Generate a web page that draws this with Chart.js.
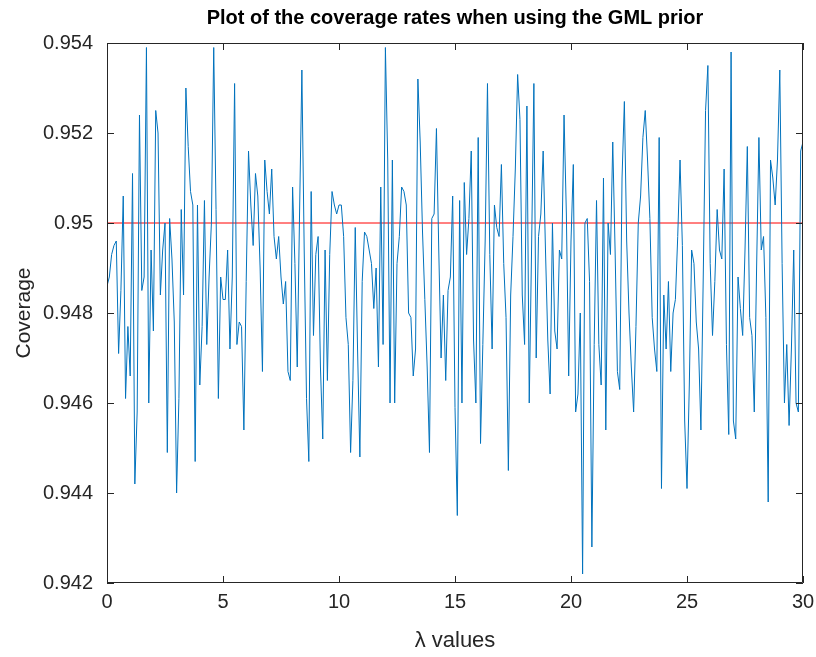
<!DOCTYPE html>
<html>
<head>
<meta charset="utf-8">
<script src="https://cdn.jsdelivr.net/npm/chart.js@4.4.1/dist/chart.umd.min.js"></script>
<style>
  html, body { margin: 0; padding: 0; background: #ffffff; }
  #wrap { width: 816px; height: 657px; }
</style>
</head>
<body>
<div id="wrap"><canvas id="coverageChart" width="816" height="657"></canvas></div>
<script>
// λ grid: 0 to 30 by 0.1
const lambdaStep = 0.1;

// coverage rates, one per λ step
const coverage = [
  0.9486, 0.9488, 0.9493, 0.9495, 0.9496, 0.9471, 0.9485, 0.9506, 0.9461, 0.9477,
  0.9466, 0.9511, 0.9442, 0.9458, 0.9524, 0.9485, 0.9488, 0.9539, 0.9460, 0.9494,
  0.9476, 0.9525, 0.9520, 0.9484, 0.9494, 0.9500, 0.9449, 0.9501, 0.9492, 0.9478,
  0.9440, 0.9461, 0.9503, 0.9484, 0.9530, 0.9517, 0.9507, 0.9504, 0.9447, 0.9504,
  0.9464, 0.9477, 0.9505, 0.9473, 0.9488, 0.9500, 0.9539, 0.9503, 0.9461, 0.9488,
  0.9483, 0.9483, 0.9494, 0.9472, 0.9488, 0.9531, 0.9473, 0.9478, 0.9477, 0.9454,
  0.9487, 0.9516, 0.9504, 0.9495, 0.9511, 0.9506, 0.9490, 0.9467, 0.9514, 0.9507,
  0.9502, 0.9512, 0.9497, 0.9492, 0.9497, 0.9488, 0.9482, 0.9487, 0.9467, 0.9465,
  0.9508, 0.9491, 0.9468, 0.9502, 0.9534, 0.9494, 0.9461, 0.9447, 0.9507, 0.9475,
  0.9493, 0.9497, 0.9468, 0.9452, 0.9494, 0.9465, 0.9493, 0.9507, 0.9504, 0.9502,
  0.9504, 0.9504, 0.9497, 0.9479, 0.9473, 0.9449, 0.9465, 0.9499, 0.9472, 0.9448,
  0.9487, 0.9498, 0.9497, 0.9494, 0.9491, 0.9481, 0.9490, 0.9468, 0.9508, 0.9473,
  0.9539, 0.9514, 0.9460, 0.9514, 0.9460, 0.9491, 0.9497, 0.9508, 0.9507, 0.9504,
  0.9480, 0.9479, 0.9466, 0.9472, 0.9532, 0.9518, 0.9498, 0.9483, 0.9468, 0.9449,
  0.9501, 0.9502, 0.9521, 0.9494, 0.9470, 0.9484, 0.9465, 0.9485, 0.9488, 0.9506,
  0.9459, 0.9435, 0.9505, 0.9460, 0.9509, 0.9493, 0.9501, 0.9516, 0.9474, 0.9460,
  0.9519, 0.9451, 0.9473, 0.9496, 0.9531, 0.9493, 0.9472, 0.9504, 0.9499, 0.9497,
  0.9513, 0.9491, 0.9479, 0.9445, 0.9484, 0.9497, 0.9512, 0.9533, 0.9523, 0.9484,
  0.9473, 0.9526, 0.9460, 0.9494, 0.9531, 0.9470, 0.9497, 0.9502, 0.9516, 0.9494,
  0.9474, 0.9462, 0.9500, 0.9476, 0.9472, 0.9494, 0.9492, 0.9524, 0.9502, 0.9466,
  0.9496, 0.9513, 0.9458, 0.9462, 0.9480, 0.9422, 0.9500, 0.9501, 0.9487, 0.9428,
  0.9473, 0.9505, 0.9473, 0.9464, 0.9510, 0.9454, 0.9500, 0.9493, 0.9518, 0.9494,
  0.9467, 0.9463, 0.9510, 0.9527, 0.9496, 0.9480, 0.9468, 0.9458, 0.9477, 0.9500,
  0.9506, 0.9519, 0.9525, 0.9514, 0.9501, 0.9479, 0.9472, 0.9467, 0.9519, 0.9441,
  0.9484, 0.9472, 0.9487, 0.9467, 0.9480, 0.9483, 0.9497, 0.9514, 0.9495, 0.9456,
  0.9441, 0.9464, 0.9494, 0.9491, 0.9478, 0.9472, 0.9454, 0.9488, 0.9525, 0.9535,
  0.9491, 0.9475, 0.9487, 0.9503, 0.9494, 0.9492, 0.9512, 0.9473, 0.9453, 0.9538,
  0.9456, 0.9452, 0.9488, 0.9481, 0.9475, 0.9494, 0.9517, 0.9479, 0.9475, 0.9458,
  0.9490, 0.9519, 0.9494, 0.9497, 0.9479, 0.9438, 0.9514, 0.9510, 0.9504, 0.9514,
  0.9534, 0.9491, 0.9460, 0.9473, 0.9455, 0.9472, 0.9494, 0.9460, 0.9458, 0.9516,
  0.9518
];

// nominal level (red line)
const nominalX = [0, 30];
const nominalY = [0.95, 0.95];

// axis ticks
const xTicks = [0, 5, 10, 15, 20, 25, 30];
const yTicks = [0.942, 0.944, 0.946, 0.948, 0.95, 0.952, 0.954];

const axisColor = '#262626';
const fontFamily = '"Liberation Sans", Arial, Helvetica, sans-serif';

// boîte façon MATLAB avec graduations vers l'intérieur
const boxPlugin = {
  id: 'matlabBox',
  afterDatasetsDraw(chart) {
    const { ctx, chartArea: a, scales } = chart;
    const tickLen = 7;
    ctx.save();
    ctx.strokeStyle = axisColor;
    ctx.lineWidth = 1;
    ctx.beginPath();
    ctx.rect(Math.round(a.left) + 0.5, Math.round(a.top) + 0.5,
             Math.round(a.width) - 1, Math.round(a.height) - 1);
    ctx.stroke();
    ctx.beginPath();
    xTicks.forEach(v => {
      const px = Math.round(scales.x.getPixelForValue(v)) + 0.5;
      ctx.moveTo(px, a.bottom); ctx.lineTo(px, a.bottom - tickLen);
      ctx.moveTo(px, a.top); ctx.lineTo(px, a.top + tickLen);
    });
    yTicks.forEach(v => {
      const py = Math.round(scales.y.getPixelForValue(v)) + 0.5;
      ctx.moveTo(a.left, py); ctx.lineTo(a.left + tickLen, py);
      ctx.moveTo(a.right, py); ctx.lineTo(a.right - tickLen, py);
    });
    ctx.stroke();
    ctx.restore();
  }
};

const lambdaValues = coverage.map((_, i) => +(i * lambdaStep).toFixed(1));

new Chart(document.getElementById('coverageChart'), {
  type: 'line',
  data: {
    datasets: [
      {
        label: 'Coverage',
        data: coverage.map((v, i) => ({ x: lambdaValues[i], y: v })),
        borderColor: '#0072BD',
        borderWidth: 1,
        pointRadius: 0,
        tension: 0,
        fill: false
      },
      {
        label: 'Nominal 0.95',
        data: nominalX.map((x, i) => ({ x: x, y: nominalY[i] })),
        borderColor: '#FF0000',
        borderWidth: 1,
        pointRadius: 0,
        fill: false
      }
    ]
  },
  options: {
    responsive: false,
    animation: false,
    layout: { padding: { left: 0, right: 13, top: 0, bottom: 0 } },
    plugins: {
      legend: { display: false },
      tooltip: { enabled: false },
      title: {
        display: true,
        fullSize: false,
        text: 'Plot of the coverage rates when using the GML prior',
        color: '#000000',
        font: { family: fontFamily, size: 20, weight: 'bold' },
        padding: { top: 6, bottom: 13 }
      }
    },
    scales: {
      x: {
        type: 'linear',
        min: 0,
        max: 30,
        grid: { display: false, drawTicks: false },
        border: { display: false },
        afterBuildTicks: scale => { scale.ticks = xTicks.map(v => ({ value: v })); },
        ticks: {
          color: axisColor,
          font: { family: fontFamily, size: 20 },
          padding: 7,
          maxRotation: 0
        },
        title: {
          display: true,
          text: 'λ values',
          color: axisColor,
          font: { family: fontFamily, size: 22 },
          padding: { top: 4, bottom: 3 }
        },
        afterFit: scale => {
          scale.height = 74;
          scale.paddingLeft = 0;
          scale.paddingRight = 0;
        }
      },
      y: {
        type: 'linear',
        min: 0.942,
        max: 0.954,
        grid: { display: false, drawTicks: false },
        border: { display: false },
        afterBuildTicks: scale => { scale.ticks = yTicks.map(v => ({ value: v })); },
        ticks: {
          color: axisColor,
          font: { family: fontFamily, size: 20 },
          padding: 14,
          callback: v => String(Number(v.toFixed(3)))
        },
        title: {
          display: true,
          text: 'Coverage',
          color: axisColor,
          font: { family: fontFamily, size: 21 },
          padding: { top: 12, bottom: 4 }
        },
        afterFit: scale => {
          scale.width = 107;
          scale.paddingTop = 0;
          scale.paddingBottom = 0;
        }
      }
    }
  },
  plugins: [boxPlugin]
});
</script>
</body>
</html>
